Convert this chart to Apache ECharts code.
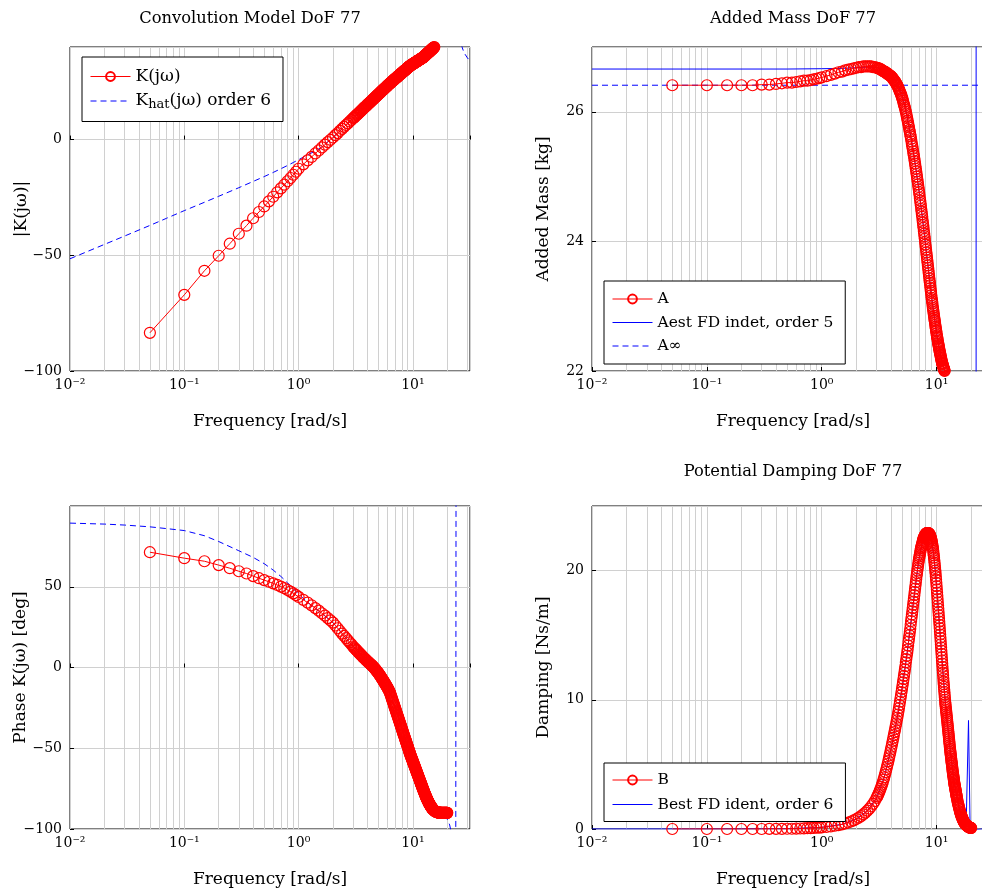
<!DOCTYPE html>
<html>
<head>
<meta charset="utf-8">
<script src="https://cdn.jsdelivr.net/npm/echarts@6/dist/echarts.min.js"></script>
<style>
  html, body { margin: 0; padding: 0; background: #fff; }
  #chart { width: 982px; height: 893px; }
</style>
</head>
<body>
<div id="chart"></div>
<script>
// measured frequencies [rad/s]
const W = [0.05,0.1,0.15,0.2,0.25,0.3,0.35,0.4,0.45,0.5,0.55,0.6,0.65,0.7,0.75,0.8,0.85,0.9,0.95,1.0,
  1.1,1.2,1.3,1.4,1.5,1.6,1.7,1.8,1.9,2.0,2.1,2.2,2.3,2.4,2.5,2.6,2.7,2.8,2.9,
  3,3.05,3.1,3.15,3.2,3.25,3.3,3.35,3.4,3.45,3.5,3.55,3.6,3.65,3.7,3.75,3.8,3.85,3.9,3.95,
  4,4.05,4.1,4.15,4.2,4.25,4.3,4.35,4.4,4.45,4.5,4.55,4.6,4.65,4.7,4.75,4.8,4.85,4.9,4.95,
  5,5.05,5.1,5.15,5.2,5.25,5.3,5.35,5.4,5.45,5.5,5.55,5.6,5.65,5.7,5.75,5.8,5.85,5.9,5.95,
  6,6.05,6.1,6.15,6.2,6.25,6.3,6.35,6.4,6.45,6.5,6.55,6.6,6.65,6.7,6.75,6.8,6.85,6.9,6.95,
  7,7.05,7.1,7.15,7.2,7.25,7.3,7.35,7.4,7.45,7.5,7.55,7.6,7.65,7.7,7.75,7.8,7.85,7.9,7.95,
  8,8.05,8.1,8.15,8.2,8.25,8.3,8.35,8.4,8.45,8.5,8.55,8.6,8.65,8.7,8.75,8.8,8.85,8.9,8.95,
  9,9.05,9.1,9.15,9.2,9.25,9.3,9.35,9.4,9.45,9.5,9.55,9.6,9.65,9.7,9.75,9.8,9.85,9.9,9.95,
  10,10.05,10.1,10.15,10.2,10.25,10.3,10.35,10.4,10.45,10.5,10.55,10.6,10.65,10.7,10.75,10.8,10.85,10.9,10.95,
  11,11.05,11.1,11.15,11.2,11.25,11.3,11.35,11.4,11.45,11.5,11.55,11.6,11.65,11.7,11.75,11.8,11.85,11.9,11.95,
  12,12.05,12.1,12.15,12.2,12.25,12.3,12.35,12.4,12.45,12.5,12.55,12.6,12.65,12.7,12.75,12.8,12.85,12.9,12.95,
  13,13.05,13.1,13.15,13.2,13.25,13.3,13.35,13.4,13.45,13.5,13.55,13.6,13.65,13.7,13.75,13.8,13.85,13.9,13.95,
  14,14.05,14.1,14.15,14.2,14.25,14.3,14.35,14.4,14.45,14.5,14.55,14.6,14.65,14.7,14.75,14.8,14.85,14.9,14.95,
  15,
  15.1,15.2,15.3,15.4,15.5,15.6,15.7,15.8,15.9,16.0,
  16.1,16.2,16.3,16.4,16.5,16.6,16.7,16.8,16.9,17.0,
  17.1,17.2,17.3,17.4,17.5,17.6,17.7,17.8,17.9,18.0,
  18.1,18.2,18.3,18.4,18.5,18.6,18.7,18.8,18.9,19.0,
  19.1,19.2,19.3,19.4,19.5,19.6,19.7,19.8,19.9,20.0];

// |K(jw)| in dB
const K_MAG = [-83.5,-67.1,-56.7,-50.2,-45.0,-40.7,-37.2,-34.0,-31.3,-28.9,-26.7,-24.7,-22.8,-21.1,-19.5,-18.0,-16.6,-15.2,-13.9,-12.6,
  -10.7,-9.0,-7.5,-6.0,-4.7,-3.4,-2.2,-1.1,-0.1,0.9,1.9,2.8,3.8,4.6,5.5,6.3,7.0,7.8,8.5,
  9.2,9.5,9.8,10.2,10.5,10.8,11.1,11.4,11.7,12.0,12.3,12.6,12.9,13.2,13.5,13.8,14.0,14.3,14.5,14.8,
  15.1,15.3,15.6,15.8,16.0,16.3,16.5,16.8,17.0,17.2,17.5,17.7,17.9,18.1,18.3,18.6,18.8,19.0,19.2,19.4,
  19.6,19.8,20.0,20.2,20.4,20.6,20.8,21.0,21.2,21.4,21.6,21.7,21.9,22.1,22.3,22.4,22.6,22.8,23.0,23.1,
  23.3,23.5,23.7,23.8,24.0,24.1,24.3,24.4,24.6,24.7,24.9,25.0,25.2,25.3,25.5,25.6,25.7,25.9,26.0,26.2,
  26.3,26.4,26.5,26.7,26.8,26.9,27.1,27.2,27.3,27.5,27.6,27.7,27.8,28.0,28.1,28.2,28.3,28.4,28.5,28.7,
  28.8,28.9,29.0,29.1,29.2,29.4,29.5,29.6,29.7,29.8,29.9,30.0,30.1,30.2,30.3,30.4,30.5,30.7,30.8,30.9,
  31.0,31.1,31.2,31.3,31.4,31.5,31.6,31.7,31.8,31.85,31.9,32.0,32.1,32.15,32.2,32.3,32.4,32.45,32.5,32.6,
  32.7,32.75,32.8,32.85,32.9,33.0,33.1,33.15,33.2,33.25,33.3,33.4,33.5,33.55,33.6,33.65,33.7,33.8,33.9,33.95,
  34.0,34.05,34.1,34.15,34.2,34.3,34.4,34.45,34.5,34.55,34.6,34.65,34.7,34.75,34.8,34.9,35.0,35.05,35.1,35.15,
  35.2,35.25,35.3,35.35,35.4,35.45,35.5,35.6,35.7,35.75,35.8,35.9,36.0,36.05,36.1,36.2,36.3,36.4,36.5,36.55,
  36.6,36.7,36.8,36.85,36.9,37.0,37.1,37.15,37.2,37.3,37.4,37.45,37.5,37.6,37.7,37.75,37.8,37.85,37.9,38.0,
  38.1,38.15,38.2,38.3,38.4,38.45,38.5,38.6,38.7,38.75,38.8,38.85,38.9,39.0,39.1,39.15,39.2,39.25,39.3,39.4,
  39.5,
  39.6,39.7,39.9,40.0,40.1,40.3,40.4,40.5,40.6,40.8,
  40.9,41.0,41.2,41.4,41.5,41.7,41.9,42.0,42.2,42.4,
  42.5,42.7,42.9,43.0,43.2,43.4,43.5,43.7,43.9,44.0,
  44.2,44.4,44.5,44.7,44.9,45.0,45.2,45.4,45.5,45.7,
  45.9,46.0,46.2,46.4,46.5,46.7,46.9,47.0,47.2,47.4];

// phase K(jw) [deg]
const K_PHASE = [71.4,67.7,65.8,63.4,61.5,59.6,58.2,56.6,55.3,54.1,53.1,52.1,51.1,50.1,49.1,48.0,47.0,45.9,44.8,43.7,
  41.9,40.2,38.5,36.8,35.2,33.6,32.1,30.6,29.2,27.8,26.0,24.3,22.6,21.0,19.6,18.2,16.8,15.5,14.3,
  13.0,12.4,11.9,11.4,10.9,10.4,9.9,9.4,8.9,8.4,8.0,7.5,7.1,6.6,6.2,5.8,5.4,5.0,4.6,4.2,
  3.9,3.5,3.2,2.8,2.5,2.1,1.8,1.5,1.2,0.8,0.5,0.1,-0.3,-0.7,-1.1,-1.5,-2.0,-2.3,-2.7,-3.1,
  -3.5,-4.0,-4.4,-4.9,-5.3,-5.8,-6.2,-6.7,-7.1,-7.6,-8.0,-8.5,-8.9,-9.4,-9.8,-10.3,-10.7,-11.2,-11.6,-12.1,
  -12.5,-13.0,-13.5,-14.0,-14.5,-15.0,-15.5,-16.2,-17.0,-17.7,-18.4,-19.1,-19.8,-20.6,-21.3,-21.9,-22.6,-23.3,-24.0,-24.6,
  -25.3,-26.0,-26.7,-27.3,-28.0,-28.6,-29.3,-29.9,-30.5,-31.2,-31.8,-32.4,-33.0,-33.6,-34.2,-34.9,-35.5,-36.0,-36.6,-37.2,
  -37.8,-38.4,-39.0,-39.5,-40.1,-40.7,-41.3,-41.8,-42.4,-42.9,-43.5,-44.0,-44.6,-45.1,-45.6,-46.2,-46.7,-47.2,-47.8,-48.3,
  -48.8,-49.3,-49.8,-50.3,-50.9,-51.4,-51.9,-52.4,-52.9,-53.4,-53.9,-54.3,-54.8,-55.2,-55.6,-56.1,-56.5,-56.9,-57.3,-57.7,
  -58.2,-58.6,-59.0,-59.4,-59.8,-60.2,-60.6,-61.0,-61.4,-61.8,-62.2,-62.6,-63.0,-63.4,-63.8,-64.2,-64.6,-64.9,-65.3,-65.7,
  -66.1,-66.5,-66.9,-67.2,-67.6,-68.0,-68.4,-68.7,-69.1,-69.4,-69.8,-70.1,-70.5,-70.9,-71.3,-71.6,-72.0,-72.3,-72.7,-73.0,
  -73.4,-73.7,-74.1,-74.4,-74.8,-75.1,-75.4,-75.8,-76.1,-76.4,-76.8,-77.1,-77.4,-77.7,-78.0,-78.3,-78.6,-78.9,-79.2,-79.5,
  -79.8,-80.1,-80.4,-80.6,-80.9,-81.2,-81.4,-81.7,-81.9,-82.2,-82.4,-82.7,-82.9,-83.1,-83.3,-83.6,-83.8,-84.0,-84.2,-84.4,
  -84.6,-84.8,-85.0,-85.2,-85.4,-85.5,-85.7,-85.9,-86.1,-86.2,-86.4,-86.6,-86.7,-86.9,-87.0,-87.2,-87.3,-87.4,-87.5,-87.7,
  -87.8,
  -88.0,-88.2,-88.4,-88.6,-88.8,-88.9,-89.1,-89.2,-89.3,-89.4,
  -89.5,-89.6,-89.6,-89.7,-89.7,-89.8,-89.8,-89.8,-89.9,-89.9,
  -89.9,-89.9,-89.9,-90.0,-90.0,-90.0,-90.0,-90.0,-90.0,-90.0,
  -90.0,-90.0,-90.0,-90.0,-90.0,-90.0,-90.0,-90.0,-90.0,-90.0,
  -90.0,-90.0,-90.0,-90.0,-90.0,-90.0,-90.0,-90.0,-90.0,-90.0];

// added mass A [kg]
const A_MASS = [26.41,26.41,26.41,26.41,26.41,26.42,26.42,26.43,26.44,26.45,26.45,26.46,26.47,26.48,26.48,26.49,26.50,26.51,26.52,26.53,
  26.55,26.57,26.59,26.61,26.62,26.64,26.65,26.66,26.67,26.68,26.69,26.69,26.70,26.70,26.70,26.70,26.70,26.69,26.69,
  26.68,26.68,26.67,26.67,26.66,26.66,26.65,26.64,26.63,26.63,26.62,26.62,26.61,26.60,26.59,26.59,26.58,26.57,26.56,26.56,
  26.55,26.54,26.53,26.52,26.50,26.49,26.48,26.47,26.45,26.44,26.42,26.41,26.39,26.37,26.35,26.33,26.31,26.29,26.27,26.25,
  26.22,26.20,26.17,26.14,26.11,26.09,26.06,26.03,26.00,25.97,25.93,25.90,25.86,25.83,25.79,25.76,25.72,25.69,25.65,25.62,
  25.58,25.54,25.50,25.47,25.43,25.39,25.35,25.32,25.28,25.24,25.20,25.16,25.12,25.08,25.04,25.00,24.96,24.92,24.88,24.84,
  24.80,24.76,24.72,24.67,24.63,24.59,24.55,24.50,24.46,24.42,24.38,24.33,24.29,24.25,24.21,24.16,24.12,24.08,24.04,23.99,
  23.95,23.91,23.87,23.83,23.79,23.75,23.71,23.67,23.63,23.59,23.55,23.51,23.47,23.43,23.39,23.36,23.32,23.28,23.24,23.21,
  23.17,23.13,23.10,23.07,23.04,23.00,22.97,22.94,22.91,22.88,22.85,22.82,22.79,22.77,22.74,22.71,22.68,22.66,22.63,22.61,
  22.58,22.55,22.53,22.51,22.49,22.46,22.44,22.42,22.40,22.38,22.36,22.34,22.32,22.30,22.28,22.27,22.25,22.23,22.21,22.20,
  22.18,22.16,22.15,22.13,22.12,22.11,22.10,22.08,22.07,22.06,22.05,22.04,22.03,22.02,22.01,22.00,21.99,21.98,21.97,21.96,
  21.95,21.94,21.93,21.92,21.91,21.91,21.90,21.89,21.88,21.87,21.86,21.86,21.85,21.84,21.83,21.82,21.81,21.81,21.80,21.79,
  21.78,21.78,21.77,21.77,21.76,21.75,21.74,21.74,21.73,21.73,21.72,21.72,21.71,21.71,21.70,21.69,21.68,21.68,21.67,21.67,
  21.66,21.66,21.65,21.65,21.64,21.64,21.63,21.63,21.62,21.62,21.61,21.61,21.60,21.60,21.59,21.59,21.58,21.58,21.57,21.57,
  21.56,
  21.55,21.54,21.54,21.53,21.52,21.51,21.50,21.50,21.49,21.48,
  21.47,21.47,21.46,21.45,21.45,21.44,21.43,21.43,21.42,21.41,
  21.41,21.40,21.40,21.39,21.38,21.38,21.37,21.37,21.36,21.36,
  21.35,21.35,21.34,21.34,21.33,21.33,21.32,21.32,21.31,21.31,
  21.30,21.30,21.30,21.29,21.29,21.28,21.28,21.28,21.27,21.27];

// potential damping B [Ns/m]
const B_DAMP = [0,0,0,0,0,0,0.01,0.01,0.01,0.02,0.02,0.03,0.04,0.05,0.06,0.07,0.08,0.10,0.11,0.13,
  0.16,0.20,0.25,0.30,0.36,0.43,0.50,0.58,0.67,0.77,0.88,1.00,1.13,1.27,1.42,1.58,1.76,1.95,2.16,
  2.4,2.53,2.66,2.8,2.95,3.11,3.27,3.44,3.62,3.81,4.0,4.2,4.4,4.61,4.82,5.03,5.25,5.47,5.7,5.92,
  6.15,6.37,6.6,6.82,7.05,7.27,7.5,7.72,7.95,8.17,8.4,8.62,8.85,9.1,9.35,9.6,9.85,10.1,10.35,10.6,
  10.85,11.1,11.35,11.6,11.85,12.1,12.35,12.6,12.9,13.15,13.4,13.65,13.9,14.2,14.5,14.75,15.0,15.25,15.5,15.8,
  16.1,16.35,16.6,16.85,17.1,17.35,17.6,17.85,18.1,18.35,18.6,18.85,19.1,19.35,19.6,19.8,20.0,20.2,20.4,20.6,
  20.8,20.95,21.1,21.25,21.4,21.55,21.7,21.8,21.9,22.0,22.1,22.2,22.3,22.4,22.5,22.55,22.6,22.65,22.7,22.75,
  22.8,22.83,22.85,22.88,22.9,22.9,22.9,22.9,22.9,22.9,22.9,22.88,22.85,22.83,22.8,22.75,22.7,22.63,22.55,22.48,
  22.4,22.3,22.2,22.08,21.95,21.83,21.7,21.53,21.35,21.18,21.0,20.8,20.6,20.4,20.2,20.0,19.8,19.55,19.3,19.05,
  18.8,18.55,18.3,18.05,17.8,17.55,17.3,17.05,16.8,16.55,16.3,16.05,15.8,15.55,15.3,15.05,14.8,14.55,14.3,14.05,
  13.8,13.55,13.3,13.05,12.8,12.55,12.3,12.1,11.9,11.65,11.4,11.2,11.0,10.8,10.6,10.4,10.2,10.0,9.8,9.65,
  9.5,9.35,9.2,9.05,8.9,8.75,8.6,8.45,8.3,8.15,8.0,7.85,7.7,7.55,7.4,7.25,7.1,6.95,6.8,6.65,
  6.5,6.35,6.2,6.08,5.95,5.83,5.7,5.58,5.45,5.33,5.2,5.1,5.0,4.88,4.75,4.63,4.5,4.4,4.3,4.2,
  4.1,4.0,3.9,3.8,3.7,3.6,3.5,3.43,3.35,3.28,3.2,3.13,3.05,2.98,2.9,2.83,2.75,2.68,2.6,2.53,
  2.45,
  2.3,2.2,2.05,1.95,1.85,1.75,1.65,1.55,1.45,1.35,
  1.27,1.2,1.12,1.05,0.98,0.92,0.86,0.8,0.75,0.7,
  0.65,0.6,0.56,0.52,0.48,0.45,0.42,0.39,0.36,0.33,
  0.31,0.29,0.27,0.25,0.23,0.21,0.2,0.18,0.17,0.16,
  0.15,0.14,0.13,0.12,0.11,0.1,0.09,0.09,0.08,0.08];

// identified model K_hat, order 6
const W_HAT = [0.01,0.02,0.03,0.05,0.07,0.1,0.15,0.2,0.3,0.4,0.5,0.6,0.7,0.8,0.9,1.0,1.2,1.5,2,2.5,
  3,3.5,4,4.5,5,5.5,6,6.5,7,7.5,8,9,10,11,12,13,14,15,16,17,
  18,19,20,21,21.5,22,22.5,23,23.5,23.7,23.9,24.5,25.5,26.8,28,30,31.6];
const KHAT_MAG = [-51.5,-45.3,-41.7,-37.1,-34.0,-30.7,-27.1,-24.5,-20.8,-18.1,-16.0,-14.2,-12.6,-11.2,-9.9,-8.7,-6.6,-4.2,0.9,5.5,
  9.2,12.3,15.1,17.5,19.6,21.6,23.3,24.9,26.3,27.6,28.8,31.0,32.7,34.0,35.2,36.6,38.1,39.6,41.0,43.5,
  46.5,50,54,58.5,61,64,67.5,71,74,75,74.5,66,51,40.3,37.6,35.3,34.0];
const KHAT_PHASE = [89.4,88.8,88.2,87.1,86.0,84.8,81.6,78.0,72.3,68.2,64.3,60.3,56.4,52.5,48.8,45.4,40.4,35.0,27.8,19.8,
  13.3,8.5,5.0,1.6,-2.8,-7.8,-12.4,-18.3,-25.2,-31.7,-37.7,-48.7,-58.1,-66.0,-73.3,-79.7,-84.5,-87.7,-89.3,-90.2,
  -91.0,-92.3,-94.0,-97.5,-101,-107,-118,-135,-160,-175,176,160,148,140,134,128,125];

// added mass estimate, order 5
const W_AEST = [0.01,0.1,0.5,1,1.5,2,2.5,3,3.5,4,4.5,5,5.5,6,6.5,7,7.5,8,8.5,9,
  10,11,12,13,14,15,16,17,18,19,20,21,21.6,22.0,22.2,22.5,23,25,28,31.6];
const A_EST = [26.66,26.66,26.66,26.665,26.67,26.68,26.69,26.68,26.65,26.59,26.47,26.27,25.96,25.60,25.21,24.81,24.39,23.96,23.56,23.18,
  22.59,22.18,21.95,21.75,21.55,21.30,21.0,20.5,19.8,18.6,16.5,12,5,-30,80,45,36,30,28.5,28.0];
const W_AINF = [0.01, 31.6];
const A_INF = [26.41, 26.41];

// damping estimate, order 6
const W_BEST = [0.01,0.1,0.5,1,1.5,2,2.5,3,3.5,4,4.5,5,5.5,6,6.5,7,7.5,8,8.5,9,
  9.5,10,11,12,13,14,15,16,17,17.5,18.1,18.97,19.6,20,22,25,31.6];
const B_EST = [0,0,0.02,0.13,0.36,0.77,1.42,2.4,4.0,6.15,8.4,10.85,13.4,16.1,18.6,20.8,22.1,22.8,22.9,22.4,
  21.0,18.8,13.8,9.5,6.5,4.1,2.45,1.35,0.7,0.48,0.3,8.4,-0.1,-0.1,-0.05,0,0];

// minor log grid lines
const MINOR = [0.02,0.03,0.04,0.05,0.06,0.07,0.08,0.09,0.2,0.3,0.4,0.5,0.6,0.7,0.8,0.9,
  2,3,4,5,6,7,8,9,20,30];

const FONT = 'DejaVu Serif';
const GRIDC = '#d0d0d0';
const RED = '#ff0000';
const BLUE = '#0000ff';
const KHAT_NAME = 'K_hat(jω) order 6';

const zip = (xs, ys) => xs.map((x, i) => [x, ys[i]]);

const SUP = { '-': '⁻', '0': '⁰', '1': '¹', '2': '²', '3': '³', '4': '⁴', '5': '⁵', '6': '⁶', '7': '⁷', '8': '⁸', '9': '⁹' };
function powLabel(v) {
  const e = Math.log10(v);
  const r = Math.round(e);
  if (Math.abs(e - r) > 1e-6) return '';
  return '10' + String(r).split('').map(c => SUP[c]).join('');
}
function numLabel(v) {
  return v < 0 ? '−' + (-v) : String(v);
}

function xAxisOpt(i) {
  return {
    type: 'log', logBase: 10, gridIndex: i, min: 0.01, max: 31.62,
    name: 'Frequency [rad/s]', nameLocation: 'middle', nameGap: 42, nameMoveOverlap: false,
    nameTextStyle: { fontFamily: FONT, fontSize: 17, color: '#000' },
    axisLine: { show: false },
    axisTick: { inside: true, length: 4, lineStyle: { color: '#000' } },
    axisLabel: { formatter: powLabel, fontFamily: FONT, fontSize: 14, color: '#000', margin: 7 },
    splitLine: { show: true, lineStyle: { color: GRIDC, width: 1 } }
  };
}
function yAxisOpt(i, min, max, interval, name, gap) {
  return {
    type: 'value', gridIndex: i, min: min, max: max, interval: interval,
    name: name, nameLocation: 'middle', nameGap: gap, nameMoveOverlap: false,
    nameTextStyle: { fontFamily: FONT, fontSize: 17, color: '#000' },
    axisLine: { show: false },
    axisTick: { show: true, inside: true, length: 4, lineStyle: { color: '#000' } },
    axisLabel: { formatter: numLabel, fontFamily: FONT, fontSize: 14, color: '#000', margin: 8, showMaxLabel: false },
    splitLine: { show: true, lineStyle: { color: GRIDC, width: 1 } }
  };
}
function gridLines(i) {
  return {
    type: 'line', name: 'minor' + i, xAxisIndex: i, yAxisIndex: i, data: [], silent: true,
    markLine: {
      silent: true, z: 1, symbol: ['none', 'none'], label: { show: false },
      lineStyle: { color: GRIDC, width: 1, type: 'solid' },
      emphasis: { disabled: true },
      data: MINOR.map(v => ({ xAxis: v }))
    }
  };
}
function measured(i, name, xs, ys) {
  return {
    type: 'line', name: name, xAxisIndex: i, yAxisIndex: i, data: zip(xs, ys),
    symbol: 'circle', symbolSize: 11, z: 3, silent: true,
    itemStyle: { color: 'rgba(255,255,255,0)', borderColor: RED, borderWidth: 1.2 },
    lineStyle: { color: RED, width: 1 }
  };
}
function model(i, name, xs, ys, dashed) {
  return {
    type: 'line', name: name, xAxisIndex: i, yAxisIndex: i, data: zip(xs, ys),
    showSymbol: false, symbol: 'none', z: 2, silent: true,
    itemStyle: { color: 'rgba(0,0,0,0)', borderWidth: 0 },
    lineStyle: { color: BLUE, width: 1, type: dashed ? [6, 4] : 'solid' }
  };
}
function legendOpt(names, left, top, pad, gap, size) {
  return {
    data: names, orient: 'vertical', left: left, top: top,
    padding: pad, itemGap: gap, itemWidth: 40, itemHeight: 11,
    backgroundColor: '#fff', borderColor: '#000', borderWidth: 1, borderRadius: 0,
    selectedMode: false,
    lineStyle: { width: 1 },
    formatter: name => name === KHAT_NAME ? 'K{sub|hat}(jω) order 6' : name,
    textStyle: {
      fontFamily: FONT, fontSize: size, color: '#000',
      rich: { sub: { fontFamily: FONT, fontSize: 13, color: '#000', padding: [8, 0, 0, 0] } }
    }
  };
}
const titleStyle = { fontFamily: FONT, fontSize: 16.3, fontWeight: 'normal', color: '#000' };

const option = {
  animation: false,
  backgroundColor: '#fff',
  title: [
    { text: 'Convolution Model DoF 77', left: 245, top: 6, textAlign: 'center', textStyle: titleStyle },
    { text: 'Added Mass DoF 77', left: 788, top: 6, textAlign: 'center', textStyle: titleStyle },
    { text: 'Potential Damping DoF 77', left: 788, top: 459, textAlign: 'center', textStyle: titleStyle }
  ],
  grid: [
    { left: 70, top: 47, width: 400, height: 324 },
    { left: 592, top: 47, width: 402, height: 324 },
    { left: 70, top: 506, width: 400, height: 323 },
    { left: 592, top: 506, width: 402, height: 323 }
  ].map(g => Object.assign(g, {
    show: true, borderColor: '#000', borderWidth: 1, backgroundColor: 'transparent',
    containLabel: false, outerBoundsMode: 'none'
  })),
  xAxis: [xAxisOpt(0), xAxisOpt(1), xAxisOpt(2), xAxisOpt(3)],
  yAxis: [
    yAxisOpt(0, -100, 40, 50, '|K(jω)|', 40),
    yAxisOpt(1, 22, 27, 2, 'Added Mass [kg]', 40),
    yAxisOpt(2, -100, 100, 50, 'Phase K(jω) [deg]', 41),
    yAxisOpt(3, 0, 25, 10, 'Damping [Ns/m]', 40)
  ],
  legend: [
    legendOpt(['K(jω)', KHAT_NAME], 82, 57, [11, 12, 10, 8], 7.5, 17),
    legendOpt(['A', 'Aest FD indet, order 5', 'A∞'], 604, 281, [10, 12, 10, 8], 7.5, 15.5),
    legendOpt(['B', 'Best FD ident, order 6'], 604, 763, [9, 12, 9, 8], 8.5, 15.5)
  ],
  series: [
    gridLines(0), gridLines(1), gridLines(2), gridLines(3),
    model(0, KHAT_NAME, W_HAT, KHAT_MAG, true),
    measured(0, 'K(jω)', W, K_MAG),
    model(1, 'Aest FD indet, order 5', W_AEST, A_EST, false),
    model(1, 'A∞', W_AINF, A_INF, true),
    measured(1, 'A', W, A_MASS),
    model(2, 'K_hat phase', W_HAT, KHAT_PHASE, true),
    measured(2, 'K phase', W, K_PHASE),
    model(3, 'Best FD ident, order 6', W_BEST, B_EST, false),
    measured(3, 'B', W, B_DAMP)
  ]
};

const chart = echarts.init(document.getElementById('chart'), null, { renderer: 'canvas' });
chart.setOption(option);
</script>
</body>
</html>
